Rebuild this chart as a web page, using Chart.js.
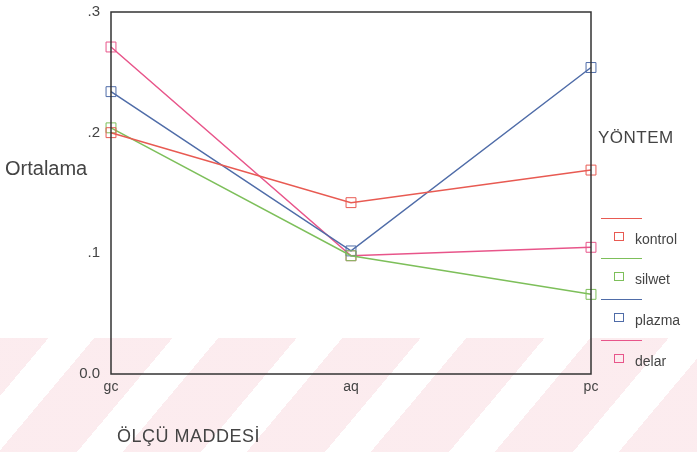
<!DOCTYPE html>
<html><head><meta charset="utf-8">
<script src="https://cdn.jsdelivr.net/npm/chart.js@4/dist/chart.umd.min.js"></script>
<style>
html,body{margin:0;padding:0;background:#fff;}
#wrap{position:relative;width:697px;height:452px;overflow:hidden;font-family:"Liberation Sans",Arial,sans-serif;color:#444;}
#wm{position:absolute;left:0;top:338px;width:697px;height:114px;
 background:repeating-linear-gradient(-50deg, rgba(246,200,208,0.35) 0px, rgba(246,200,208,0.35) 60px, rgba(255,255,255,0) 60px, rgba(255,255,255,0) 95px);}
canvas{position:absolute;left:0;top:0;}
.t{position:absolute;white-space:nowrap;}
.leg{position:absolute;}
</style></head>
<body><div id="wrap">
<div id="wm"></div>
<canvas id="c" width="697" height="452"></canvas>
<div class="t" style="left:5px;top:157px;font-size:20px;">Ortalama</div>
<div class="t" style="left:598px;top:128px;font-size:17px;letter-spacing:0.5px;">YÖNTEM</div>
<div class="t" style="left:117px;top:426px;font-size:18px;letter-spacing:0.5px;">ÖLÇÜ MADDESİ</div>
<div id="legend"></div>
</div>
<script>
const categories = ["gc", "aq", "pc"];
const seriesNames = ["kontrol", "silwet", "plazma", "delar"];
const kontrol = [0.200, 0.142, 0.169];
const silwet = [0.204, 0.098, 0.066];
const plazma = [0.234, 0.102, 0.254];
const delar = [0.271, 0.098, 0.105];
const yTicks = [0, 0.1, 0.2, 0.3];
const yTickLabels = ["0.0", ".1", ".2", ".3"];
const colors = ["#e85a52", "#7dbf5a", "#4f6ca8", "#e8558a"];

const values = [kontrol, silwet, plazma, delar];
const datasets = seriesNames.map((n, i) => ({
  label: n,
  data: values[i],
  borderColor: colors[i],
  backgroundColor: 'rgba(0,0,0,0)',
  borderWidth: 1.5,
  pointStyle: 'rect',
  pointRadius: 7,
  pointBorderWidth: 1,
  pointBorderColor: colors[i],
  pointBackgroundColor: 'rgba(0,0,0,0)',
  tension: 0,
  clip: false
}));

const frame = {
  id: 'frame',
  afterDraw(chart) {
    const {ctx, chartArea: a} = chart;
    ctx.save();
    ctx.strokeStyle = '#333';
    ctx.lineWidth = 1.5;
    ctx.strokeRect(a.left, a.top, a.right - a.left, a.bottom - a.top);
    ctx.restore();
  }
};

new Chart(document.getElementById('c'), {
  type: 'line',
  data: {labels: categories, datasets},
  options: {
    responsive: false,
    animation: false,
    layout: {padding: {top: 12, right: 106, left: 0, bottom: 0}},
    plugins: {legend: {display: false}, tooltip: {enabled: false}},
    scales: {
      x: {
        type: 'category',
        offset: false,
        grid: {display: false, drawTicks: true, tickLength: 3, tickColor: '#333', tickWidth: 3},
        border: {display: false},
        ticks: {color: '#444', font: {family: 'Liberation Sans', size: 14}, padding: 2, maxRotation: 0},
        afterFit(s) { s.height = 452 - 374; s.paddingLeft = 0; s.paddingRight = 0; }
      },
      y: {
        min: 0, max: 0.3,
        afterBuildTicks(s) { s.ticks = yTicks.map(v => ({value: v})); },
        grid: {display: false, drawTicks: true, tickLength: 3, tickColor: '#333', tickWidth: 3},
        border: {display: false},
        ticks: {color: '#444', font: {family: 'Liberation Sans', size: 15}, padding: 8,
          callback: (v) => { const i = yTicks.indexOf(v); return i >= 0 ? yTickLabels[i] : ''; }},
        afterFit(s) { s.width = 111; s.paddingTop = 0; s.paddingBottom = 0; }
      }
    }
  },
  plugins: [frame]
});

// legend (HTML)
const legTop = [218, 258, 299, 340];
const leg = document.getElementById('legend');
seriesNames.forEach((n, i) => {
  const y = legTop[i];
  leg.insertAdjacentHTML('beforeend',
    `<div class="leg" style="left:601px;top:${y}px;width:41px;height:0;border-top:1.5px solid ${colors[i]}"></div>` +
    `<div class="leg" style="left:614px;top:${y+14}px;width:8px;height:7px;border:1px solid ${colors[i]}"></div>` +
    `<div class="t" style="left:635px;top:${y+13}px;font-size:14px;">${n}</div>`);
});
</script>
</body></html>
